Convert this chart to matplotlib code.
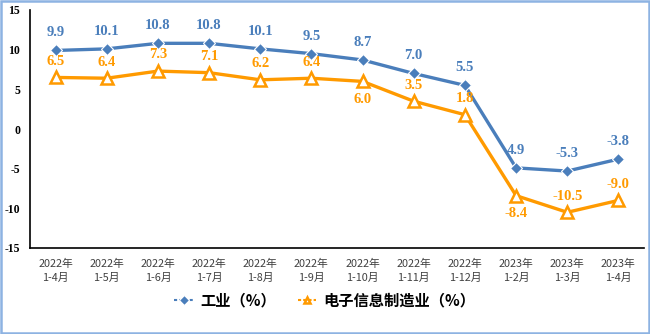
import matplotlib
matplotlib.use("Agg")
import matplotlib.pyplot as plt
from matplotlib.patches import Rectangle

categories = ["2022年\n1-4月", "2022年\n1-5月", "2022年\n1-6月", "2022年\n1-7月", "2022年\n1-8月",
              "2022年\n1-9月", "2022年\n1-10月", "2022年\n1-11月", "2022年\n1-12月",
              "2023年\n1-2月", "2023年\n1-3月", "2023年\n1-4月"]
industry = [9.9, 10.1, 10.8, 10.8, 10.1, 9.5, 8.7, 7.0, 5.5, -4.9, -5.3, -3.8]
industry_labels = ["9.9", "10.1", "10.8", "10.8", "10.1", "9.5", "8.7", "7.0", "5.5", "4.9", "-5.3", "-3.8"]
electronics = [6.5, 6.4, 7.3, 7.1, 6.2, 6.4, 6.0, 3.5, 1.8, -8.4, -10.5, -9.0]
electronics_labels = ["6.5", "6.4", "7.3", "7.1", "6.2", "6.4", "6.0", "3.5", "1.8", "-8.4", "-10.5", "-9.0"]
elec_below = [False, False, False, False, False, False, True, False, False, True, False, False]
yticks = [-15, -10, -5, 0, 5, 10, 15]
series_names = ["工业（%）", "电子信息制造业（%）"]

blue = "#4A7EBB"
orange = "#FF9A00"

fig = plt.figure(figsize=(6.5, 3.34), dpi=100)
ax = fig.add_axes([30/650, 1-248/334, 614/650, 238/334])
x = list(range(len(categories)))

ax.plot(x, industry, color=blue, lw=2.4, marker="D", ms=6.5, mfc=blue, mec="white", mew=0.8,
        label=series_names[0], zorder=3)
ax.plot(x, electronics, color=orange, lw=2.4, marker="^", ms=8, mfc="white", mec=orange, mew=1.8,
        label=series_names[1], zorder=3)

lab_font = dict(family="Liberation Serif", weight="bold", size=10.5)
for i, (v, t) in enumerate(zip(industry, industry_labels)):
    ax.annotate(t, (i, v), xytext=(0, 8), textcoords="offset points", ha="center", va="bottom",
                color=blue, **lab_font)
for i, (v, t) in enumerate(zip(electronics, electronics_labels)):
    if elec_below[i]:
        ax.annotate(t, (i, v), xytext=(0, -8), textcoords="offset points", ha="center", va="top",
                    color=orange, **lab_font)
    else:
        ax.annotate(t, (i, v), xytext=(0, 7), textcoords="offset points", ha="center", va="bottom",
                    color=orange, **lab_font)

ax.set_xlim(-0.5, 11.5)
ax.set_ylim(-15, 15)
ax.set_yticks(yticks)
ax.set_yticklabels([str(t) for t in yticks], fontfamily="Liberation Serif", fontweight="bold", fontsize=8.5)
ax.set_xticks(x)
ax.set_xticklabels(categories, fontfamily=["Noto Sans CJK SC", "DejaVu Sans"], fontsize=7.8,
                   color="#404040", linespacing=1.45)
ax.tick_params(axis="both", length=0)
ax.tick_params(axis="y", pad=7)
ax.tick_params(axis="x", pad=8)
for s in ["top", "right"]:
    ax.spines[s].set_visible(False)
for s in ["left", "bottom"]:
    ax.spines[s].set_color("black")
    ax.spines[s].set_linewidth(1.2)

leg = fig.legend(loc="center", bbox_to_anchor=(0.5, 1-300/334), ncol=2, frameon=False,
                 prop=dict(family=["Noto Sans CJK SC", "DejaVu Sans"], weight="bold", size=11),
                 handlelength=1.2, columnspacing=1.4, handletextpad=0.5)
for h in leg.legend_handles:
    h.set_linestyle((0, (1.5, 1)))
    h.set_linewidth(1.5)
    h.set_markersize(5)

fig.patches.append(Rectangle((0.002, 0.003), 0.996, 0.994, transform=fig.transFigure,
                             fill=False, edgecolor="#8DB3E2", lw=1.8))
fig.savefig("out.png", dpi=100)
